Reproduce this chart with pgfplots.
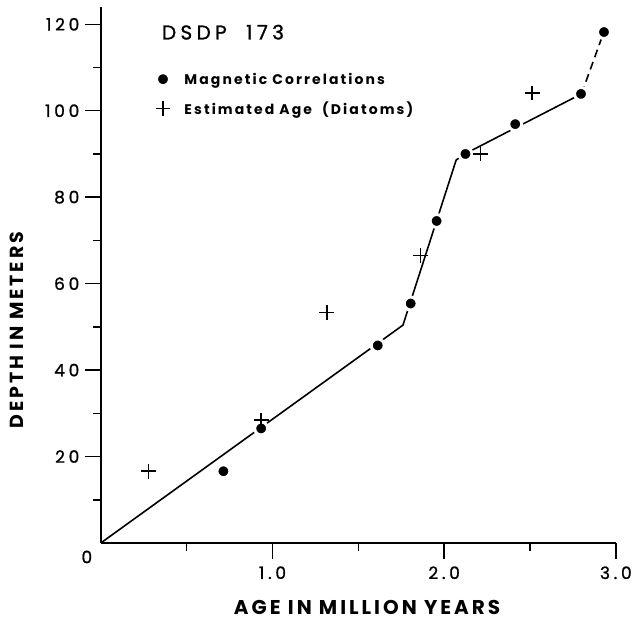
\documentclass[border=0pt]{standalone}
\usepackage{fontspec}
\setmainfont{Poppins}
\newfontfamily\lbl{Poppins}[LetterSpace=15]
\newfontfamily\tck{Poppins}[LetterSpace=22, FakeBold=1.2]
\usepackage{pgfplots}
\pgfplotsset{compat=1.18}
\begin{document}
\begin{tikzpicture}
\path (-101pt,-78pt) rectangle (534pt,544pt);
\begin{axis}[
  scale only axis, width=516pt, height=537pt,
  xmin=0, xmax=3, ymin=0, ymax=124,
  axis x line*=bottom, axis y line*=left,
  axis line style={line width=1.8pt},
  every tick/.style={black, line width=1.5pt},
  tick align=outside,
  major tick length=16pt, minor tick length=8pt,
  xtick={1,2,3}, xticklabels={1.0,2.0,3.0},
  minor xtick={0.5,1.5,2.5},
  ytick={20,40,60,80,100,120},
  minor ytick={10,30,50,70,90,110},
  /pgf/number format/assume math mode=true,
  tick label style={font=\tck\fontsize{17}{19}\selectfont},
  xticklabel style={yshift=-4pt},
  yticklabel style={xshift=-2pt},
  label style={font=\lbl\bfseries\fontsize{20}{24}\selectfont},
  xlabel={AGE IN MILLION YEARS},
  xlabel style={at={(axis description cs:0.517,0)}, anchor=center, yshift=-65pt},
  ylabel={DEPTH IN METERS},
  ylabel style={at={(axis description cs:-0.163,0.397)}, anchor=center, rotate=0,
    font=\lbl\bfseries\fontsize{19}{22}\selectfont},
  legend style={draw=none, fill=none, at={(axis description cs:0.1,0.885)}, anchor=north west,
    font=\lbl\bfseries\fontsize{14}{17}\selectfont, row sep=12pt,
    /tikz/every odd column/.append style={column sep=12pt}},
  legend cell align=left,
  clip=false,
]
\addplot[black, line width=1.6pt, forget plot] coordinates {(0,0) (1.76,50.4) (2.07,88.6) (2.12,90) (2.80,103.9)};
\addplot[black, line width=1.6pt, dash pattern=on 8pt off 5pt, forget plot] coordinates {(2.80,103.9) (2.93,118.2)};
\addplot[only marks, mark=*, mark size=6.5pt, mark options={fill=black, draw=white, line width=3pt}]
  coordinates {(0.714,16.6) (0.934,26.5) (1.613,45.7) (1.805,55.4) (1.956,74.5) (2.124,90.0) (2.414,96.9) (2.797,103.9) (2.931,118.2)};
\addlegendentry{Magnetic Correlations}
\addplot[only marks, mark=+, mark size=7.5pt, mark options={line width=1.5pt, black}]
  coordinates {(0.279,16.6) (0.934,28.4) (1.317,53.3) (1.863,66.5) (2.211,90.0) (2.513,104.1)};
\addlegendentry{Estimated Age~~(Diatoms)}
\node[anchor=west, font=\tck\fontsize{20}{24}\selectfont] at (axis description cs:0.112,0.953) {DSDP\ \ 173};
\node[font=\tck\fontsize{17}{19}\selectfont] at (axis cs:0,0) [xshift=-14pt, yshift=-14pt] {0};
\end{axis}
\end{tikzpicture}
\end{document}
